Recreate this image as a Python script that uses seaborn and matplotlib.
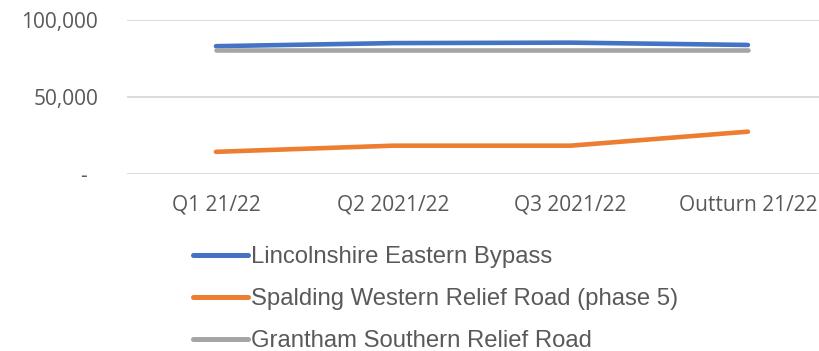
import matplotlib
matplotlib.use("Agg")
import matplotlib.pyplot as plt
from matplotlib.lines import Line2D
import pandas as pd
import seaborn as sns

# Quarterly forecast figures per scheme
periods = ["Q1 21/22", "Q2 2021/22", "Q3 2021/22", "Outturn 21/22"]
lincolnshire_eastern_bypass = [83000, 85000, 85300, 83800]
spalding_western_relief_road = [14400, 18400, 18400, 27500]
grantham_southern_relief_road = [80500, 80500, 80500, 80500]

schemes = [
    "Lincolnshire Eastern Bypass",
    "Spalding Western Relief Road (phase 5)",
    "Grantham Southern Relief Road",
]
colors = ["#4472C4", "#ED7D31", "#A5A5A5"]
yticks = [0, 50000, 100000]
yticklabels = ["-  ", "50,000", "100,000"]

df = pd.concat(
    [
        pd.DataFrame({"period": periods, "value": vals, "scheme": name})
        for name, vals in zip(
            schemes,
            [lincolnshire_eastern_bypass, spalding_western_relief_road,
             grantham_southern_relief_road],
        )
    ],
    ignore_index=True,
)

sns.set_theme(style="white")
plt.rcParams["font.family"] = ["Open Sans", "DejaVu Sans"]

W, H = 820, 351
fig = plt.figure(figsize=(W / 100, H / 100), dpi=100)
# plot area: categories 177.3 px apart, first at x=216; zero line at y=174, 100k at y=20
unit = 177.3
left_px = 216 - 0.5 * unit
ax = fig.add_axes([left_px / W, (H - 174) / H, 4 * unit / W, 154 / H])

sns.lineplot(
    data=df, x="period", y="value", hue="scheme", hue_order=schemes,
    palette=colors, sort=False, linewidth=3.3, legend=False, ax=ax,
)
for ln in ax.lines:
    ln.set_solid_capstyle("round")
    ln.set_solid_joinstyle("round")

ax.set_xlim(-0.5, 3.5)
ax.set_ylim(0, 100000)
ax.set_yticks(yticks)
ax.set_yticklabels(yticklabels)
ax.yaxis.grid(True, color="#D9D9D9", linewidth=1.3)
ax.set_axisbelow(True)
for s in ax.spines.values():
    s.set_visible(False)
ax.set_xlabel("")
ax.set_ylabel("")
ax.tick_params(axis="both", length=0, labelcolor="#595959", labelsize=15)
ax.tick_params(axis="y", pad=21)
ax.tick_params(axis="x", pad=15)

handles = [
    Line2D([0], [0], color=c, lw=3.6, solid_capstyle="round") for c in colors
]
fig.legend(
    handles, schemes, loc="upper left",
    bbox_to_anchor=(193 / W, 1 - 246 / H),
    frameon=False, borderpad=0, borderaxespad=0,
    handlelength=2.3, handletextpad=0.12, labelspacing=0.84,
    prop={"family": "Liberation Sans", "size": 17.2}, labelcolor="#595959",
)

fig.savefig("out.png", dpi=100)
